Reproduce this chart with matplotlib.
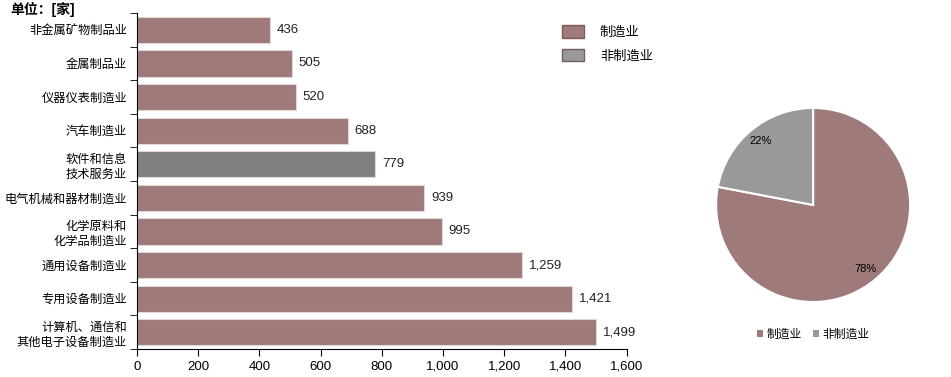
import numpy as np
import matplotlib
matplotlib.use("Agg")
import matplotlib.pyplot as plt
from matplotlib.patches import Patch

plt.rcParams['font.family'] = ['Liberation Sans', 'Noto Sans CJK SC', 'DejaVu Sans']

# data
categories = ['非金属矿物制品业', '金属制品业', '仪器仪表制造业', '汽车制造业',
              '软件和信息\n技术服务业', '电气机械和器材制造业', '化学原料和\n化学品制造业',
              '通用设备制造业', '专用设备制造业', '计算机、通信和\n其他电子设备制造业']
counts = [436, 505, 520, 688, 779, 939, 995, 1259, 1421, 1499]
is_mfg = [True, True, True, True, False, True, True, True, True, True]
pie_labels = ['制造业', '非制造业']
pie_shares = [78, 22]

c_mfg = '#9e7a7a'
c_bar_non = '#808080'
c_pie_non = '#999999'

fig = plt.figure(figsize=(9.51, 3.77), dpi=100)

# bar chart
ax = fig.add_axes([0.144, 0.074, 0.515, 0.8915])
y = np.arange(len(categories))
colors = [c_mfg if m else c_bar_non for m in is_mfg]
ax.barh(y, counts, height=0.78, color=colors, edgecolor='#e2d6d6', linewidth=0.8)
for yi, v in zip(y, counts):
    ax.text(v + 22, yi, f'{v:,}', va='center', ha='left', fontsize=9.5, color='#222222')
ax.set_ylim(len(categories) - 0.5, -0.5)
ax.set_xlim(0, 1600)
ax.set_xticks(np.arange(0, 1601, 200))
ax.set_xticklabels([f'{v:,}' for v in range(0, 1601, 200)], fontsize=9.5)
ax.set_yticks(y)
ax.set_yticklabels(categories, fontsize=8.8, linespacing=1.3)
ax.set_yticks(np.arange(-0.5, len(categories)), minor=True)
ax.tick_params(axis='y', which='major', length=0, pad=7)
ax.tick_params(axis='y', which='minor', length=5, direction='out')
ax.tick_params(axis='x', length=5, direction='out')
for s in ['top', 'right']:
    ax.spines[s].set_visible(False)
ax.spines['left'].set_color('black')
ax.spines['bottom'].set_color('black')

fig.text(0.011, 0.975, '单位：[家]', fontsize=10, fontweight='bold', ha='left', va='center')

# legend for bar chart
handles = [Patch(facecolor=c_mfg, edgecolor='#7a5a5a', linewidth=1.0),
           Patch(facecolor=c_pie_non, edgecolor='#7a5a5a', linewidth=1.0)]
fig.legend(handles, pie_labels, loc='upper left', bbox_to_anchor=(0.578, 0.965),
           frameon=False, fontsize=9.5, handlelength=1.7, handleheight=1.1,
           labelspacing=0.75, handletextpad=1.2)

# pie chart
axp = fig.add_axes([0.753, 0.199, 0.204, 0.5146])
wedges, texts, autotexts = axp.pie(pie_shares, colors=[c_mfg, c_pie_non], startangle=90,
                                   counterclock=False, autopct='%d%%', pctdistance=0.85,
                                   wedgeprops=dict(edgecolor='white', linewidth=1.5),
                                   textprops=dict(fontsize=8, color='black'))
axp.set_xlim(-1.0, 1.0)
axp.set_ylim(-1.0, 1.0)
axp.set_aspect('equal')

fig.legend([Patch(facecolor=c_mfg), Patch(facecolor=c_pie_non)], pie_labels,
           loc='center', bbox_to_anchor=(0.855, 0.112), ncol=2, frameon=False,
           fontsize=8.5, handlelength=0.5, handleheight=0.5, handletextpad=0.3,
           columnspacing=1.0)

fig.savefig('out.png', dpi=100)
